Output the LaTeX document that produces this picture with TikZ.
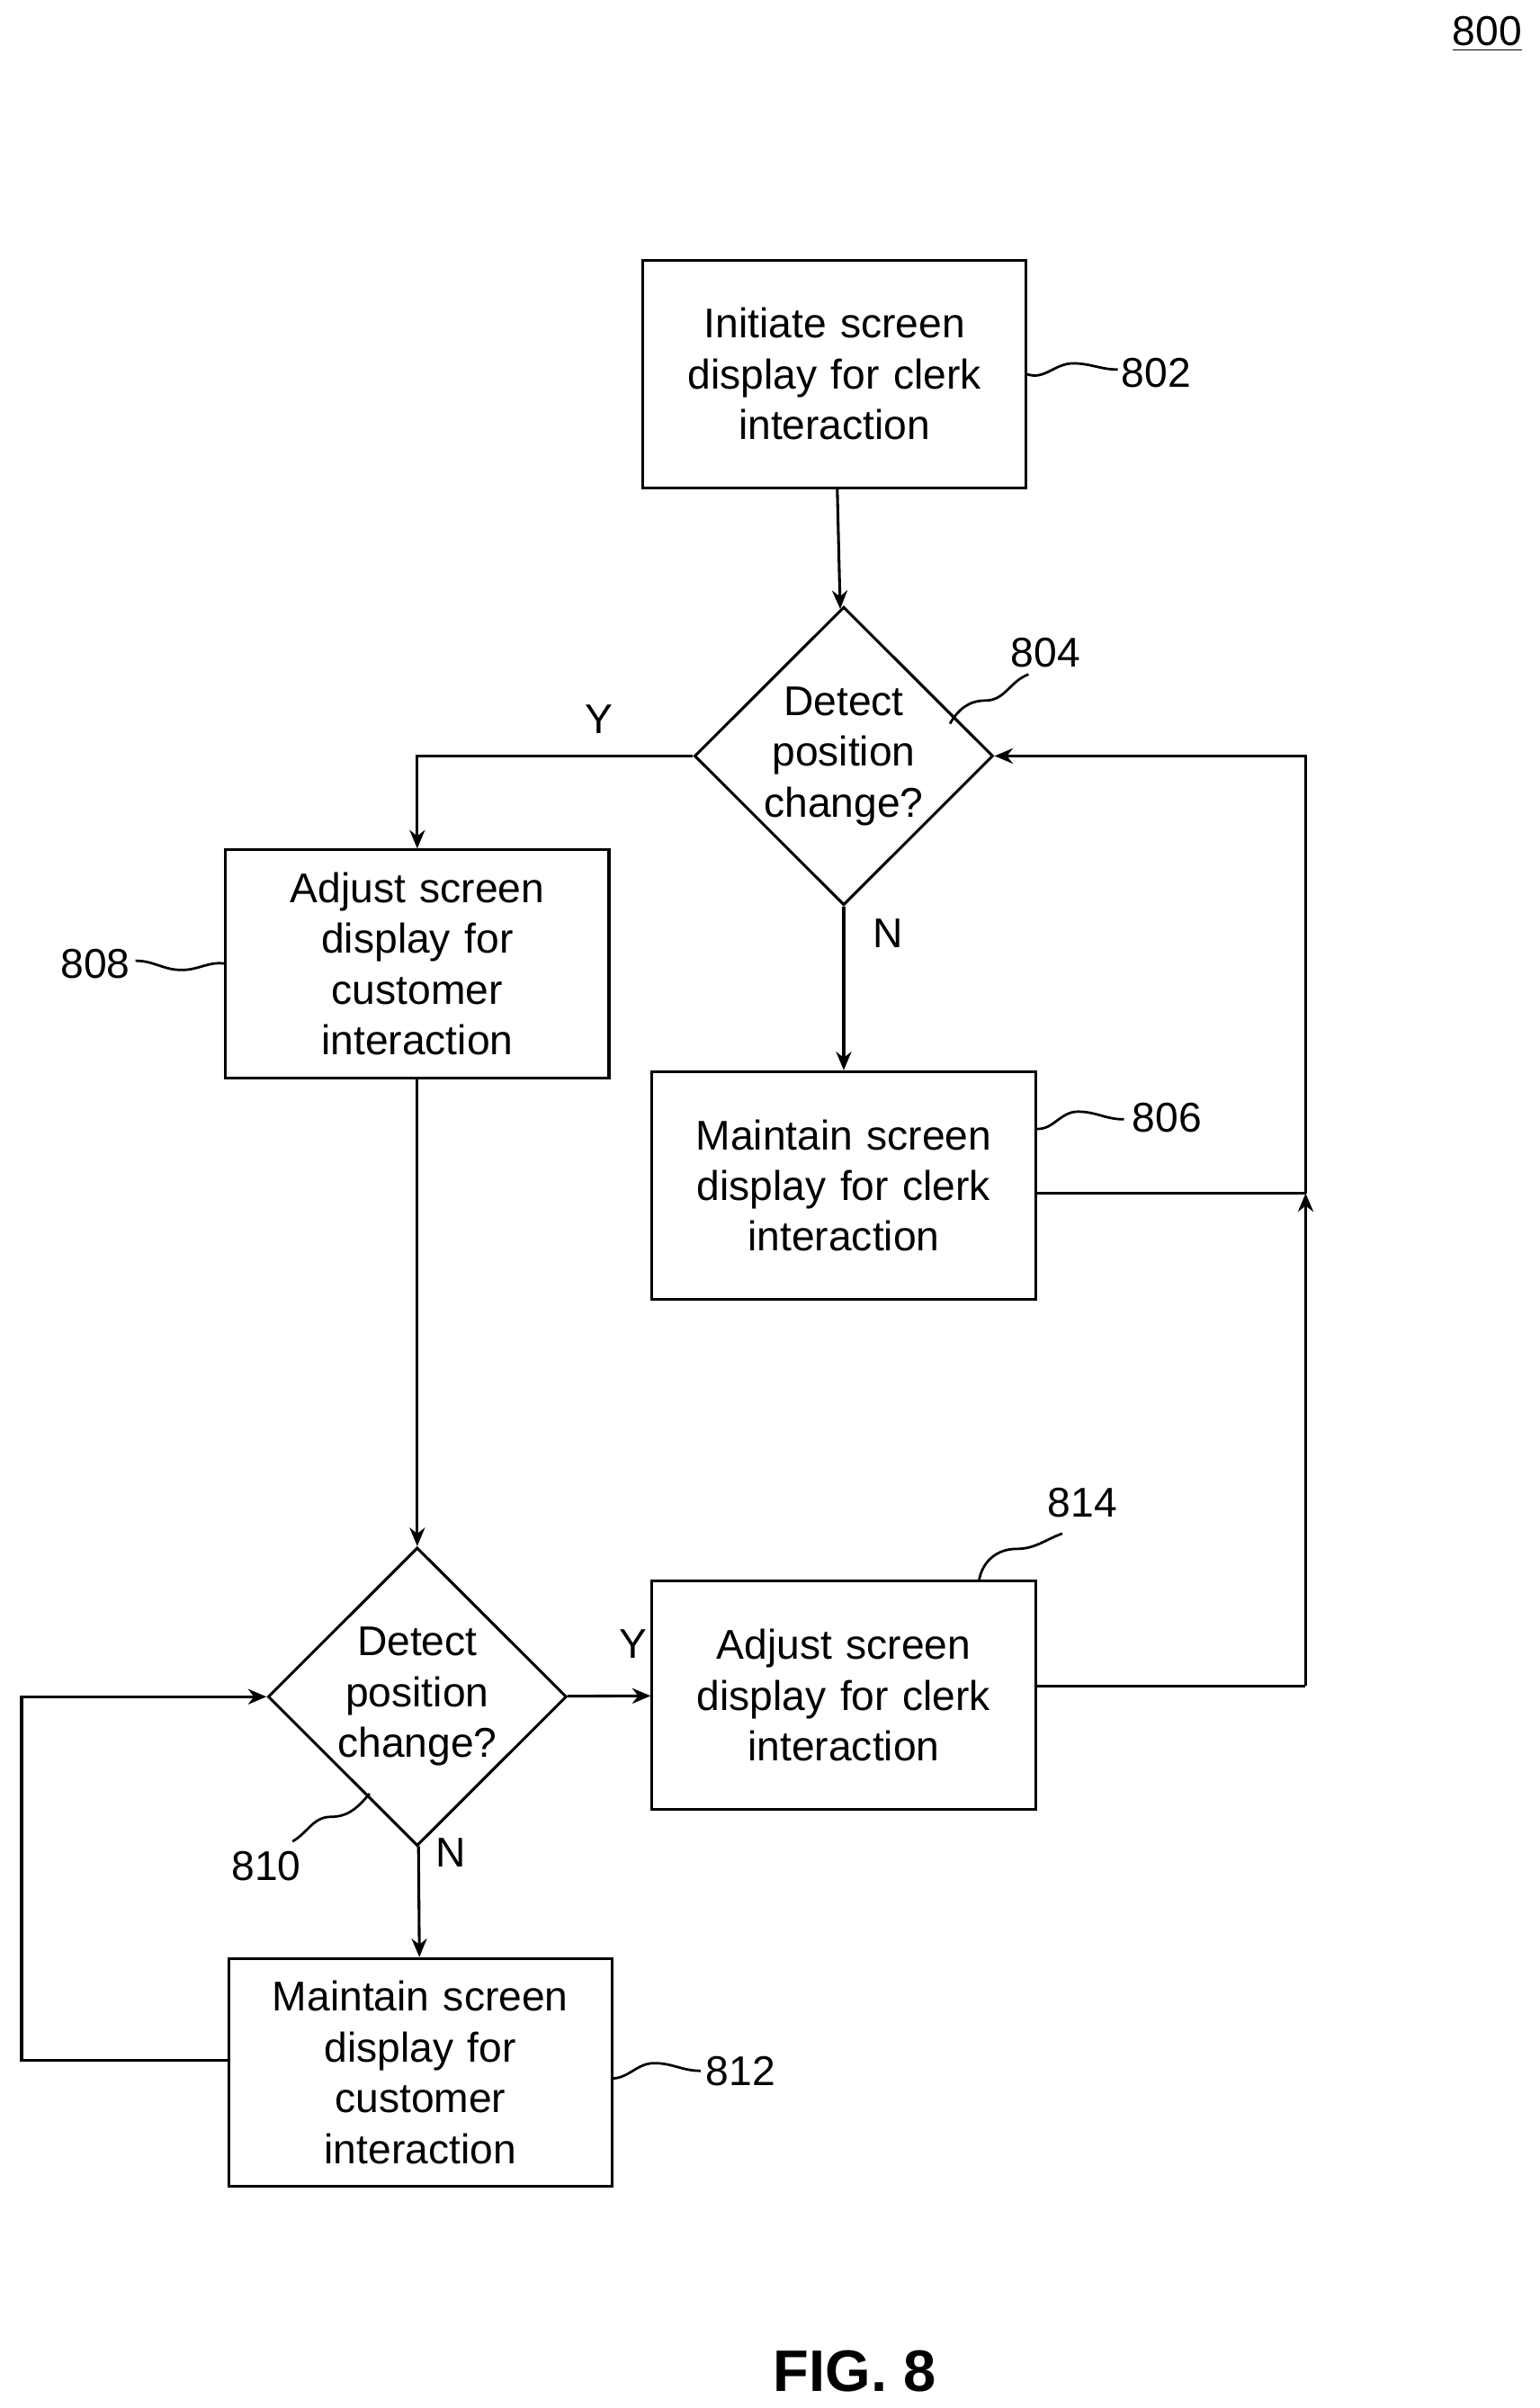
\documentclass[tikz,border=0pt]{standalone}
\usepackage{fontspec}
\setmainfont{Liberation Sans}
\usetikzlibrary{shapes.geometric,arrows.meta}
\begin{document}
\begin{tikzpicture}[x=0.5pt,y=-0.5pt,
  box/.style={draw,line width=0.9pt,minimum width=124.5pt,minimum height=74pt,align=center,text width=110pt,font=\fontsize{13.5}{16.5}\selectfont,inner sep=0pt},
  dia/.style={draw,diamond,line width=0.9pt,minimum width=97pt,minimum height=87pt,align=center,inner sep=0pt,font=\fontsize{13.5}{16.5}\selectfont},
  arr/.style={line width=0.9pt,-{Stealth[length=6pt,width=5pt]}},
  ln/.style={line width=0.9pt},
  sq/.style={line width=0.8pt},
  lab/.style={font=\fontsize{13.5}{16}\selectfont,inner sep=1pt}]
\useasboundingbox (0,0) rectangle (1000,1564);
\node[box] (n802) at (542,243) {Initiate screen\\display for clerk\\interaction};
\node[dia] (n804) at (548,491) {Detect\\position\\change?};
\node[box] (n808) at (271,626) {Adjust screen\\display for\\customer\\interaction};
\node[box] (n806) at (548,770) {Maintain screen\\display for clerk\\interaction};
\node[dia] (n810) at (271,1102) {Detect\\position\\change?};
\node[box] (n814) at (548,1101) {Adjust screen\\display for clerk\\interaction};
\node[box] (n812) at (273,1346) {Maintain screen\\display for\\customer\\interaction};
\coordinate (r1) at (848,491);
\coordinate (r2) at (848,775);
\coordinate (r3) at (848,1095);
\coordinate (l1) at (14,1338);
\coordinate (l2) at (14,1102);
\coordinate (y1) at (271,491);
\draw[arr] (n802) -- (n804);
\draw[arr] (n804.west) -- (y1) -- (n808.north);
\draw[arr] (n804) -- (n806);
\draw[arr] (n808) -- (n810);
\draw[arr] (n810) -- (n814);
\draw[arr] (n810) -- (n812);
\draw[ln] (n814.east |- r3) -- (r3);
\draw[arr] (r3) -- (r2);
\draw[ln] (n806.east |- r2) -- (r2);
\draw[arr] (r2) -- (r1) -- (n804.east);
\draw[arr] (n812.west |- l1) -- (l1) -- (l2) -- (n810.west);
\node[lab] (ly1) at (389,467) {Y};
\node[lab] (ln1) at (577,606) {N};
\node[lab] (ly2) at (411,1068) {Y};
\node[lab] (ln2) at (293,1203) {N};
\node[lab] (t802) at (751,242) {802};
\node[lab] (t804) at (679,424) {804};
\node[lab] (t806) at (758,726) {806};
\node[lab] (t808) at (62,626) {808};
\node[lab] (t814) at (703,976) {814};
\node[lab] (t810) at (173,1212) {810};
\node[lab] (t812) at (481,1345) {812};
\draw[sq] (667,243) to[out=-20,in=180] (697,236) to[out=0,in=180] (726,240);
\draw[sq] (617,470) to[out=60,in=180] (640,455) to[out=0,in=200] (668,438);
\draw[sq] (672,733) to[out=-10,in=180] (700,722) to[out=0,in=180] (730,727);
\draw[sq] (147,626) to[out=170,in=0] (118,630) to[out=180,in=0] (88,624);
\draw[sq] (636,1026) to[out=80,in=180] (660,1006) to[out=0,in=200] (690,996);
\draw[sq] (240,1165) to[out=230,in=0] (215,1180) to[out=180,in=30] (190,1196);
\draw[sq] (397,1350) to[out=0,in=180] (425,1340) to[out=0,in=180] (455,1345);
\node[lab] (t800) at (966,22) {\underline{800}};
\node[font=\bfseries\fontsize{19}{22}\selectfont] (fig) at (555,1540) {FIG. 8};
\end{tikzpicture}
\end{document}
